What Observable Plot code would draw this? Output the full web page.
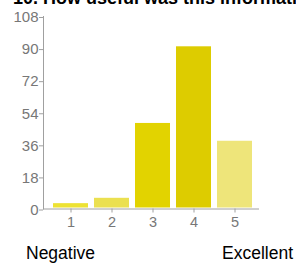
<!DOCTYPE html>
<html>
<head>
<meta charset="utf-8">
<script src="https://cdn.jsdelivr.net/npm/d3@7"></script>
<script src="https://cdn.jsdelivr.net/npm/@observablehq/plot@0.6"></script>
<style>
  html, body { margin: 0; padding: 0; background: #fff; }
  body { width: 296px; height: 264px; overflow: hidden; position: relative; font-family: "Liberation Sans", Arial, Helvetica, sans-serif; }
  #title { position: absolute; left: 13px; top: -11px; font-size: 18px; line-height: 18px; font-weight: bold; color: #000; white-space: nowrap; }
  #chart { position: absolute; left: 0; top: 0; }
  .end { position: absolute; top: 243px; font-size: 17.5px; line-height: 20px; color: #000; white-space: nowrap; }
  #neg { left: 26px; }
  #exc { right: 3px; }
</style>
</head>
<body>
<div id="title">10. How useful was this information?</div>
<div id="chart"></div>
<div class="end" id="neg">Negative</div>
<div class="end" id="exc">Excellent</div>
<script>
const ratings = [1, 2, 3, 4, 5];
const counts = [3, 6, 48, 91, 38];
const yTicks = [0, 18, 36, 54, 72, 90, 108];
const barColors = ["#EDE233", "#EBE050", "#E2D300", "#DDCC00", "#EEE57A"];

const data = ratings.map((r, i) => ({rating: r, count: counts[i]}));

const chart = Plot.plot({
  width: 296,
  height: 236,
  marginTop: 16,
  marginBottom: 27.5,
  marginLeft: 43,
  marginRight: 38,
  style: {fontFamily: "'Liberation Sans', Arial, Helvetica, sans-serif", background: "transparent"},
  x: {type: "band", domain: ratings, range: [48, 258], paddingInner: 0.146, paddingOuter: 0.128},
  y: {domain: [0, 108]},
  color: {type: "ordinal", domain: ratings, range: barColors},
  marks: [
    Plot.barY(data, {x: "rating", y: "count", fill: "rating", insetBottom: 1}),
    Plot.frame({anchor: "left", stroke: "#a0a0a0"}),
    Plot.frame({anchor: "bottom", stroke: "#a0a0a0"}),
    Plot.axisY({ticks: yTicks, tickSize: 4, tickPadding: 1, fontSize: 15, fill: "#777", stroke: "#a0a0a0", label: null, dy: 1}),
    Plot.axisX({tickSize: 4, tickPadding: 4, fontSize: 14.5, fill: "#777", stroke: "#a0a0a0", label: null})
  ]
});
document.getElementById("chart").appendChild(chart);
</script>
</body>
</html>
